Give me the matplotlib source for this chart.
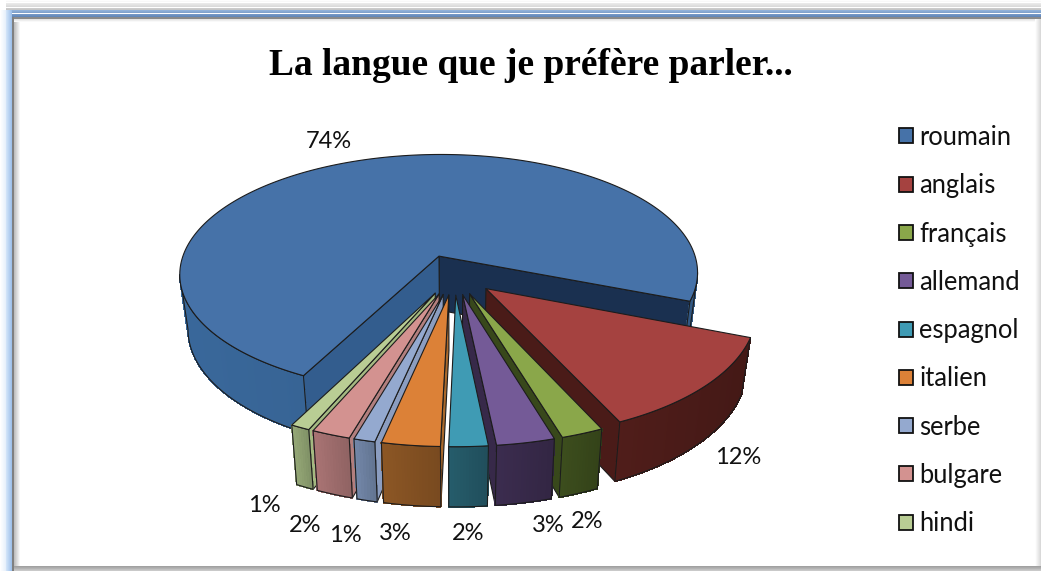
import numpy as np
import matplotlib
matplotlib.use("Agg")
import matplotlib.pyplot as plt
from matplotlib.colors import to_rgb
from matplotlib.patches import Polygon, Patch, Rectangle

# ---- data ----
categories = ["roumain", "anglais", "français", "allemand", "espagnol",
              "italien", "serbe", "bulgare", "hindi"]
values = [73.5, 12.2, 2.2, 3.0, 2.0, 3.0, 1.1, 2.0, 1.0]
value_labels = ["74%", "12%", "2%", "3%", "2%", "3%", "1%", "2%", "1%"]
title = "La langue que je préfère parler..."

# ---- styles ----
top_colors = ["#4672a8", "#a54240", "#8aa74a", "#745a97", "#3f9bb4",
              "#dc8137", "#94a9cf", "#d39290", "#b9cd94"]
outer_colors = ["#35608f", "#4a1b18", "#38481b", "#372949", "#235563",
                "#825022", "#6a7d9c", "#9c6b6b", "#8a9c6e"]
start_wall_colors = ["#1a3050", "#4a1b18", "#38481b", "#372949", "#235563",
                     "#825022", "#6a7d9c", "#9c6b6b", "#8a9c6e"]
end_wall_colors = ["#335d8e", "#7a3230", "#66803a", "#5a4578", "#2f7f94",
                   "#a9692c", "#8b9dc0", "#b27f7e", "#a4b981"]
label_xy = [(329, 141.5), (738, 458), (587, 522), (548, 526), (468, 533),
            (395, 533), (345, 536), (305, 526), (264, 506)]

# projection of the pie (pixel units of the figure)
CX, CY, RX, RY = 454.0, 274.5, 262.0, 122.0
PERSP, EXPLODE, DEPTH, SHRINK = 0.15, 0.165, 54.7, 0.97
BOUNDARY = -21.5   # angle between first and second slices
EDGE = "#1c1c1c"

plt.rcParams["font.family"] = ["Lato", "DejaVu Sans"]
fig = plt.figure(figsize=(10.41, 5.71), dpi=100, facecolor="white")
ax = fig.add_axes([0, 0, 1, 1])
ax.set_xlim(0, 1041)
ax.set_ylim(571, 0)
ax.axis("off")


def strips(x0, x1, y0, y1, c0, c1, vertical, n=12):
    """Gradient frame band."""
    c0, c1 = np.array(to_rgb(c0)), np.array(to_rgb(c1))
    for i in range(n):
        t0, t1 = i / n, (i + 1) / n
        col = c0 + (c1 - c0) * (t0 + t1) / 2
        if vertical:
            r = (x0, y0 + (y1 - y0) * t0, x1 - x0, (y1 - y0) / n)
        else:
            r = (x0 + (x1 - x0) * t0, y0, (x1 - x0) / n, y1 - y0)
        ax.add_patch(Rectangle(r[:2], r[2], r[3], fc=col, ec="none", zorder=1))


strips(6, 1041, 0, 10, "#ffffff", "#c4c4c4", True)
strips(6, 1041, 10, 17, "#93b3da", "#6186b8", True)
strips(0, 6, 10, 571, "#ffffff", "#e4eefb", False)
strips(6, 12, 10, 571, "#d2e4f9", "#98bce8", False)
strips(12, 1041, 17, 19, "#8a8a8a", "#8a8a8a", True, 1)
strips(12, 14, 17, 571, "#808080", "#808080", False, 1)
strips(14, 20, 19, 566, "#bcbcbc", "#ffffff", False)
strips(14, 1041, 19, 22, "#e0e0e0", "#ffffff", True)
strips(1035, 1041, 19, 566, "#ffffff", "#d4d4d4", False)
strips(14, 1041, 566, 571, "#9a9a9a", "#d0d0d0", True)


def project(u, v):
    w = 1 + PERSP * v
    return CX + RX * u / w, CY - RY * v / w, w


def drop(x, y, w):
    return CX + (x - CX) * SHRINK, y + DEPTH / np.sqrt(w)


def wall(xa, ya, wa, fc, z):
    xb, yb = drop(xa, ya, wa)
    pts = np.r_[np.c_[xa, ya], np.c_[xb, yb][::-1]]
    ax.add_patch(Polygon(pts, closed=True, fc=fc, ec=EDGE, lw=0.8, joinstyle="round", zorder=z))


def runs(mask):
    """Index ranges of consecutive True entries."""
    idx = np.flatnonzero(mask)
    if idx.size == 0:
        return []
    parts = np.split(idx, np.flatnonzero(np.diff(idx) > 1) + 1)
    return [(p[0], p[-1] + 2) for p in parts]


spans = np.array(values) / sum(values) * 360
hi = BOUNDARY + spans[0]
slices = []
for i, sp in enumerate(spans):
    slices.append((i, hi - sp, hi))
    hi -= sp
# far slices first
draw_order = sorted(slices, key=lambda s: -abs(((s[1] + s[2]) / 2 + 90 + 180) % 360 - 180))

z = 5
for i, lo, up in draw_order:
    mid = np.radians((lo + up) / 2)
    ex, ey = EXPLODE * np.cos(mid), EXPLODE * np.sin(mid)
    th = np.radians(np.linspace(lo, up, max(8, int((up - lo) * 2))))
    ax_, ay_, aw_ = project(ex, ey)
    x, y, w = project(ex + np.cos(th), ey + np.sin(th))

    # radial walls seen from the viewer
    if x[0] > ax_:
        wall(np.r_[ax_, x[0]], np.r_[ay_, y[0]], np.r_[aw_, w[0]], start_wall_colors[i], z)
    if ax_ > x[-1]:
        wall(np.r_[x[-1], ax_], np.r_[y[-1], ay_], np.r_[w[-1], aw_], end_wall_colors[i], z)
    # outer wall: only stretches running left to right are visible
    base = np.array(to_rgb(outer_colors[i]))
    for a, b in runs(np.diff(x) > 0):
        xx, yy, ww = x[a:b], y[a:b], w[a:b]
        xb, yb = drop(xx, yy, ww)
        for k in range(len(xx) - 1):
            t = (xx[k] - x.min()) / max(1.0, x.max() - x.min())
            col = np.clip(base * (1.08 - 0.16 * t), 0, 1)
            quad = [(xx[k], yy[k]), (xx[k + 1], yy[k + 1]), (xb[k + 1], yb[k + 1]), (xb[k], yb[k])]
            ax.add_patch(Polygon(quad, closed=True, fc=col, ec=col, lw=0.6,
                                 antialiased=False, zorder=z))
        pts = np.r_[np.c_[xx, yy], np.c_[xb, yb][::-1]]
        ax.add_patch(Polygon(pts, closed=True, fc="none", ec=EDGE, lw=0.8, zorder=z))
    # top face
    ax.add_patch(Polygon(np.r_[[[ax_, ay_]], np.c_[x, y]], closed=True, fc=top_colors[i],
                         ec=EDGE, lw=0.8, joinstyle="round", zorder=z + 0.5))
    z += 1

for lab, (lx, ly) in zip(value_labels, label_xy):
    ax.text(lx, ly, lab, ha="center", va="center", fontsize=17, color="#111111", zorder=40)

ax.text(530.5, 75, title, ha="center", va="baseline", fontsize=26.9, fontweight="bold",
        family="Liberation Serif", color="black", zorder=40)

handles = [Patch(fc=c, ec="#111111", lw=1.3) for c in top_colors]
leg = ax.legend(handles, categories, loc="upper left", bbox_to_anchor=(899 / 1041, 1 - 125 / 571),
                frameon=False, fontsize=18.4, handlelength=0.53, handleheight=0.53,
                handletextpad=0.27, labelspacing=0.911, borderaxespad=0, borderpad=0)
for t in leg.get_texts():
    t.set_color("#111111")
leg.set_zorder(40)

fig.savefig("out.png", dpi=100, facecolor="white")
